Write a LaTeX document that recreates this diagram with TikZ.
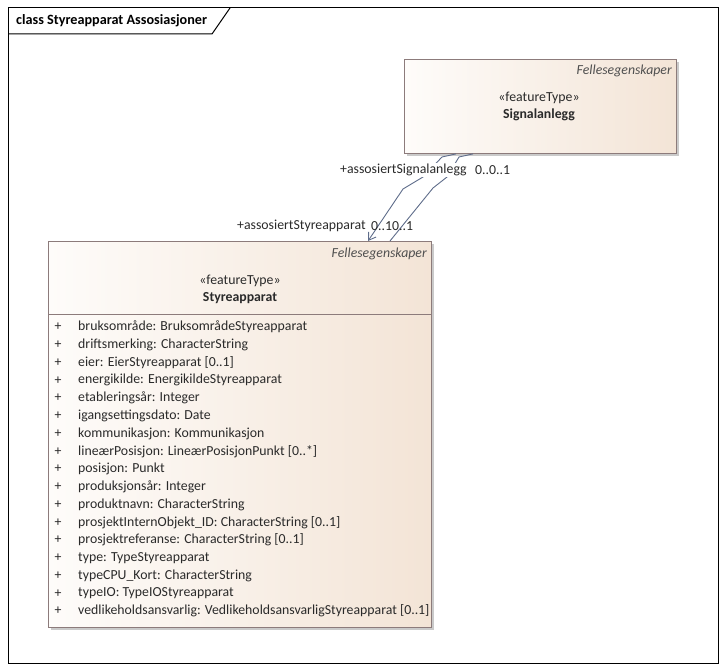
\documentclass[tikz,border=0pt]{standalone}
\usepackage{fontspec}
\setmainfont{Carlito}
\usetikzlibrary{arrows.meta,shadows,calc}
\definecolor{boxline}{HTML}{8C7B7B}
\definecolor{boxleft}{HTML}{FEFCFA}
\definecolor{boxright}{HTML}{F3E4D6}
\definecolor{conn}{HTML}{5E6C8A}
\definecolor{txt}{HTML}{2A2A2A}
\definecolor{pkg}{HTML}{505050}
\tikzset{
  fnt/.style={font=\fontsize{13.8}{16}\selectfont},
  classbox/.style={draw=boxline, line width=0.9pt, left color=boxleft, right color=boxright,
    anchor=north west, inner sep=0pt,
    drop shadow={shadow xshift=3pt, shadow yshift=-3pt, fill=black!35, opacity=0.6}},
  lbl/.style={fnt, text=txt, inner sep=0pt},
  pkglbl/.style={font=\fontsize{13.8}{16}\selectfont\itshape, text=pkg, inner sep=0pt, anchor=east},
  stereo/.style={fnt, text=txt, inner sep=0pt},
  cname/.style={font=\fontsize{13.8}{16}\selectfont\bfseries, text=txt, inner sep=0pt},
  attr/.style={fnt, text=txt, inner sep=0pt, anchor=west},
  assoc/.style={draw=conn, line width=0.9pt, line join=miter}
}
\begin{document}
\begin{tikzpicture}[x=1pt,y=-1pt]
\useasboundingbox (0,0) rectangle (726,671);
% frame
\draw[line width=1pt] (8,8) rectangle (718,663);
\draw[line width=1pt] (8,34) -- (212,34) -- (230,8);
\node[font=\fontsize{14.2}{16}\selectfont\bfseries, anchor=west, inner sep=0pt] (title) at (16,21) {class Styreapparat Assosiasjoner};

% Signalanlegg
\node[classbox, minimum width=272pt, minimum height=94pt] (sig) at (404,59) {};
\node[pkglbl] (sigpkg) at (672,71) {Fellesegenskaper};
\node[stereo] (sigst) at (539,98) {«featureType»};
\node[cname] (signame) at (539,115) {Signalanlegg};

% Styreapparat
\node[classbox, minimum width=383pt, minimum height=386pt] (sty) at (48,241) {};
\node[pkglbl] (stypkg) at (427,254) {Fellesegenskaper};
\node[stereo] (styst) at (240,281) {«featureType»};
\node[cname] (styname) at (240,298) {Styreapparat};
\draw[draw=boxline, line width=0.9pt] (sty.west |- 0,314) -- (sty.east |- 0,314);

\foreach \t [count=\i from 0] in {
  bruksområde: BruksområdeStyreapparat,
  driftsmerking: CharacterString,
  eier: EierStyreapparat [0..1],
  energikilde: EnergikildeStyreapparat,
  etableringsår: Integer,
  igangsettingsdato: Date,
  kommunikasjon: Kommunikasjon,
  lineærPosisjon: LineærPosisjonPunkt [0..*],
  posisjon: Punkt,
  produksjonsår: Integer,
  produktnavn: CharacterString,
  prosjektInternObjekt\_ID: CharacterString [0..1],
  prosjektreferanse: CharacterString [0..1],
  type: TypeStyreapparat,
  typeCPU\_Kort: CharacterString,
  typeIO: TypeIOStyreapparat,
  vedlikeholdsansvarlig: VedlikeholdsansvarligStyreapparat [0..1]} {
  \node[lbl] (plus\i) at (58,327+17.75*\i) {+};
  \node[attr] (attr\i) at (78,327+17.75*\i) {\t};
}

% connectors
\coordinate (a0) at ([xshift=52pt]sig.south west);
\coordinate (b0) at ([xshift=69pt]sig.south west);
\coordinate (a1) at ([xshift=320pt]sty.north west);
\coordinate (b1) at ([xshift=342pt]sty.north west);
\draw[assoc, -{Straight Barb[length=7pt,width=9pt]}] (a0) -- (442,157) -- (423,177) -- (403,189) -- (a1);
\draw[assoc] (b0) -- (459,157) -- (447,177) -- (433,188) -- (b1);

% labels
\node[lbl, fill=white, inner xsep=1pt, inner ysep=1pt, anchor=west] (rolesig) at (339,170) {+assosiertSignalanlegg};
\node[lbl, anchor=west] (multsig) at (475,170) {0..0..1};
\node[lbl, anchor=west] (rolesty) at (237,226) {+assosiertStyreapparat};
\node[lbl, anchor=west] (multsty) at (371,226) {0..10..1};
\end{tikzpicture}
\end{document}
